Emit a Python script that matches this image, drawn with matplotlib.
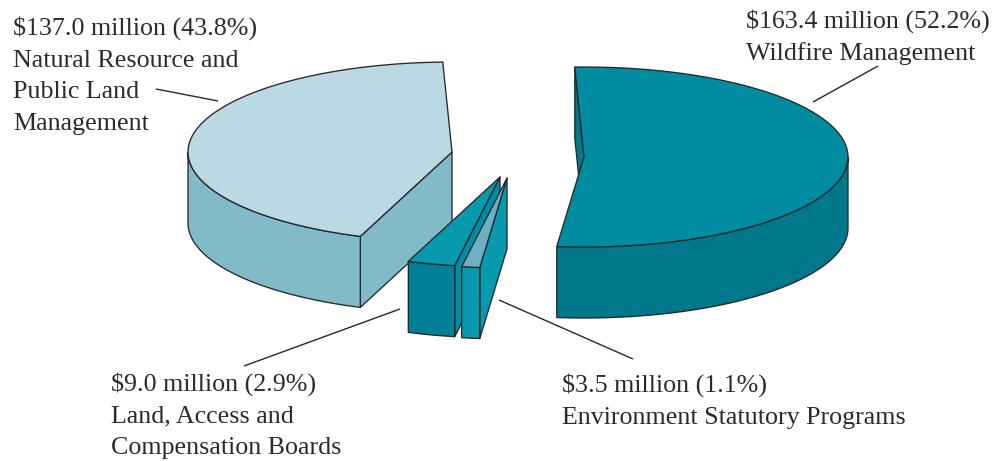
import numpy as np
import matplotlib
matplotlib.use('Agg')
import matplotlib.pyplot as plt

# spending by program, clockwise from the top of the pie
programs = ['Wildfire Management', 'Environment Statutory Programs',
            'Land, Access and Compensation Boards', 'Natural Resource and Public Land Management']
amounts = [163.4, 3.5, 9.0, 137.0]
shares = [52.2, 1.1, 2.9, 43.8]

RX, RY, DEPTH = 264, 90, 71
START = 92
EDGE = '#26282a'
LW = 0.95

# tip of each exploded slice
tips = [(584, 157), (507, 178), (500, 177), (452, 152)]
tops = ['#008ca0', '#6db0c1', '#0799ad', '#bbd9e2']
rims = ['#00788b', '#0799ad', '#007f96', '#81bbc8']
cuts = ['#00788b', '#0799ad', '#008ea6', '#81bbc8']

plt.rcParams['font.family'] = ['Liberation Serif', 'DejaVu Serif']

fig = plt.figure(figsize=(10.04, 4.61), dpi=100)
ax = fig.add_axes([0, 0, 1, 1])
ax.set_xlim(0, 1004)
ax.set_ylim(461, 0)
ax.axis('off')


def rim_point(tip, deg):
    t = np.radians(deg)
    return tip[0] + RX * np.cos(t), tip[1] - RY * np.sin(t)


def poly(pts, color):
    xs, ys = zip(*pts)
    ax.fill(xs, ys, facecolor=color, edgecolor=EDGE, linewidth=LW, joinstyle='round')


def draw_slice(tip, a0, a1, top, rim, cut):
    # a0 > a1, running clockwise; the cut face on the first radius is the visible one
    p = rim_point(tip, a0)
    poly([p, tip, (tip[0], tip[1] + DEPTH), (p[0], p[1] + DEPTH)], cut)

    # front wall: only the part of the arc facing the viewer
    arc = np.linspace(min(a0, 0), max(a1, -180), 80)
    upper = [rim_point(tip, d) for d in arc]
    lower = [(x, y + DEPTH) for x, y in upper[::-1]]
    poly(upper + lower, rim)

    # top face
    arc = np.linspace(a0, a1, 120)
    poly([tip] + [rim_point(tip, d) for d in arc], top)


# slices are painted back to front
angle = START
spans = []
for s in shares:
    spans.append((angle, angle - s * 3.6))
    angle -= s * 3.6

for i in [3, 2, 1, 0]:
    draw_slice(tips[i], spans[i][0], spans[i][1], tops[i], rims[i], cuts[i])

# leader lines
leaders = [((813, 102), (878, 66)), ((499, 300), (633, 359)),
           ((244, 366), (400, 309)), ((156, 89), (218, 101))]
for (x0, y0), (x1, y1) in leaders:
    ax.plot([x0, x1], [y0, y1], color=EDGE, linewidth=1.0, solid_capstyle='butt')

# labels, one list of lines per slice
label_lines = [
    ['Wildfire Management'],
    ['Environment Statutory Programs'],
    ['Land, Access and', 'Compensation Boards'],
    ['Natural Resource and', 'Public Land', 'Management'],
]
label_pos = [(746, 28), (562, 392), (111, 391), (13, 35)]
for i in range(4):
    x, y = label_pos[i]
    head = f'${amounts[i]:.1f} million ({shares[i]:.1f}%)'
    for n, line in enumerate([head] + label_lines[i]):
        ax.text(x, y + n * 31.7, line, fontsize=18.7, color='#2b2b2b', va='baseline',
                ha='left', parse_math=False)

fig.savefig('out.png', dpi=100, facecolor='white')
